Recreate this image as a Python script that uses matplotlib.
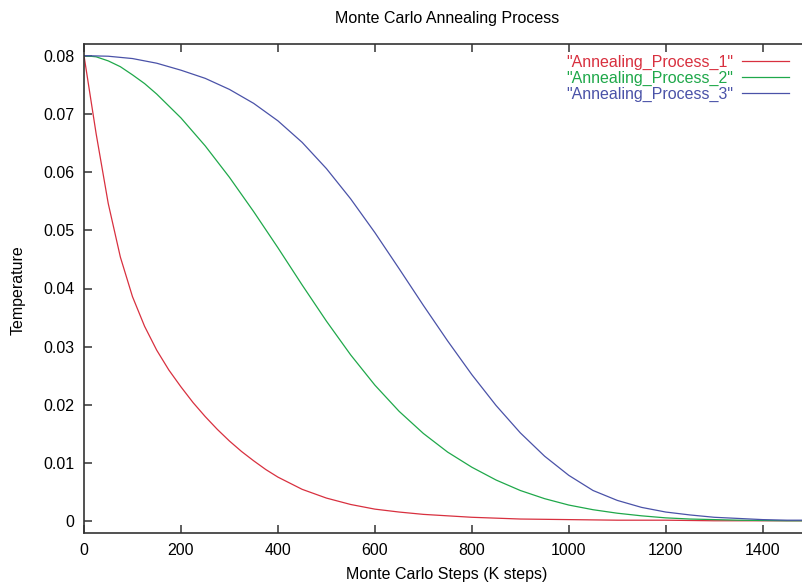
import matplotlib.pyplot as plt

plt.rcParams['font.family'] = ['Liberation Sans', 'DejaVu Sans']

# Monte Carlo steps (K steps)
steps_1 = [0, 25, 50, 75, 100, 125, 150, 175, 200, 225, 250, 275, 300, 325, 350,
           375, 400, 450, 500, 550, 600, 650, 700, 800, 900, 1000, 1100, 1200,
           1300, 1400, 1480]
steps_2 = [0, 25, 50, 75, 100, 125, 150, 200, 250, 300, 350, 400, 450, 500, 550,
           600, 650, 700, 750, 800, 850, 900, 950, 1000, 1050, 1100, 1150, 1200,
           1250, 1300, 1350, 1400, 1450, 1480]
steps_3 = [0, 50, 100, 150, 200, 250, 300, 350, 400, 450, 500, 550, 600, 650, 700,
           750, 800, 850, 900, 950, 1000, 1050, 1100, 1150, 1200, 1250, 1300, 1350,
           1400, 1450, 1480]

process_1 = [0.0800, 0.0666, 0.0546, 0.0454, 0.0386, 0.0335, 0.0294, 0.0260, 0.0231,
             0.0204, 0.0180, 0.0158, 0.0138, 0.0120, 0.0104, 0.0089, 0.0076, 0.0055,
             0.0040, 0.0029, 0.0021, 0.0016, 0.0012, 0.0007, 0.0004, 0.0003, 0.0002,
             0.0002, 0.0001, 0.0001, 0.0001]
process_2 = [0.0800, 0.0798, 0.0791, 0.0781, 0.0767, 0.0752, 0.0734, 0.0693, 0.0645,
             0.0591, 0.0532, 0.0470, 0.0406, 0.0344, 0.0286, 0.0234, 0.0189, 0.0151,
             0.0119, 0.0093, 0.0071, 0.0053, 0.0039, 0.0028, 0.0020, 0.0014, 0.00095,
             0.0006, 0.0004, 0.0003, 0.0002, 0.00015, 0.0001, 0.0001]
process_3 = [0.0800, 0.0799, 0.0795, 0.0787, 0.0775, 0.0761, 0.0742, 0.0718, 0.0688,
             0.0651, 0.0606, 0.0554, 0.0496, 0.0434, 0.0371, 0.0310, 0.0252, 0.0199,
             0.0152, 0.0112, 0.0079, 0.0053, 0.0036, 0.0024, 0.0016, 0.0011, 0.0007,
             0.0005, 0.0003, 0.0002, 0.0002]

labels = ['"Annealing_Process_1"', '"Annealing_Process_2"', '"Annealing_Process_3"']
colors = ['#d8303f', '#1fa84a', '#4a52a8']

fig = plt.figure(figsize=(8.02, 5.82), dpi=100)
ax = fig.add_axes([84 / 802, 49 / 582, 718 / 802, 489 / 582])

ax.plot(steps_1, process_1, color=colors[0], lw=0.9, label=labels[0])
ax.plot(steps_2, process_2, color=colors[1], lw=0.9, label=labels[1])
ax.plot(steps_3, process_3, color=colors[2], lw=0.9, label=labels[2])

ax.set_xlim(0, 1481)
ax.set_ylim(-0.002, 0.082)
ax.set_xticks([0, 200, 400, 600, 800, 1000, 1200, 1400])
ax.set_yticks([0, 0.01, 0.02, 0.03, 0.04, 0.05, 0.06, 0.07, 0.08])
ax.set_yticklabels(['0', '0.01', '0.02', '0.03', '0.04', '0.05', '0.06', '0.07', '0.08'])
ax.tick_params(direction='in', top=True, right=False, length=6, width=1.1,
               color='#333333', labelsize=11.5, pad=7)
for side in ['left', 'bottom', 'top']:
    ax.spines[side].set_linewidth(1.2)
    ax.spines[side].set_color('#333333')
ax.spines['right'].set_visible(False)

fig.text(447 / 802, 1 - 18 / 582, 'Monte Carlo Annealing Process',
         ha='center', va='center', fontsize=11.5)
fig.text(447 / 802, 1 - 574 / 582, 'Monte Carlo Steps (K steps)',
         ha='center', va='center', fontsize=11.5)
fig.text(18 / 802, 1 - 290 / 582, 'Temperature', rotation=90,
         ha='center', va='center', fontsize=11.5)

ax.legend(loc='upper right', bbox_to_anchor=(0.997, 1.001), frameon=False,
          markerfirst=False, labelcolor='linecolor', fontsize=11.5,
          handlelength=2.9, handletextpad=0.6, labelspacing=0.05,
          borderaxespad=0.3)

plt.savefig('out.png', dpi=100)
